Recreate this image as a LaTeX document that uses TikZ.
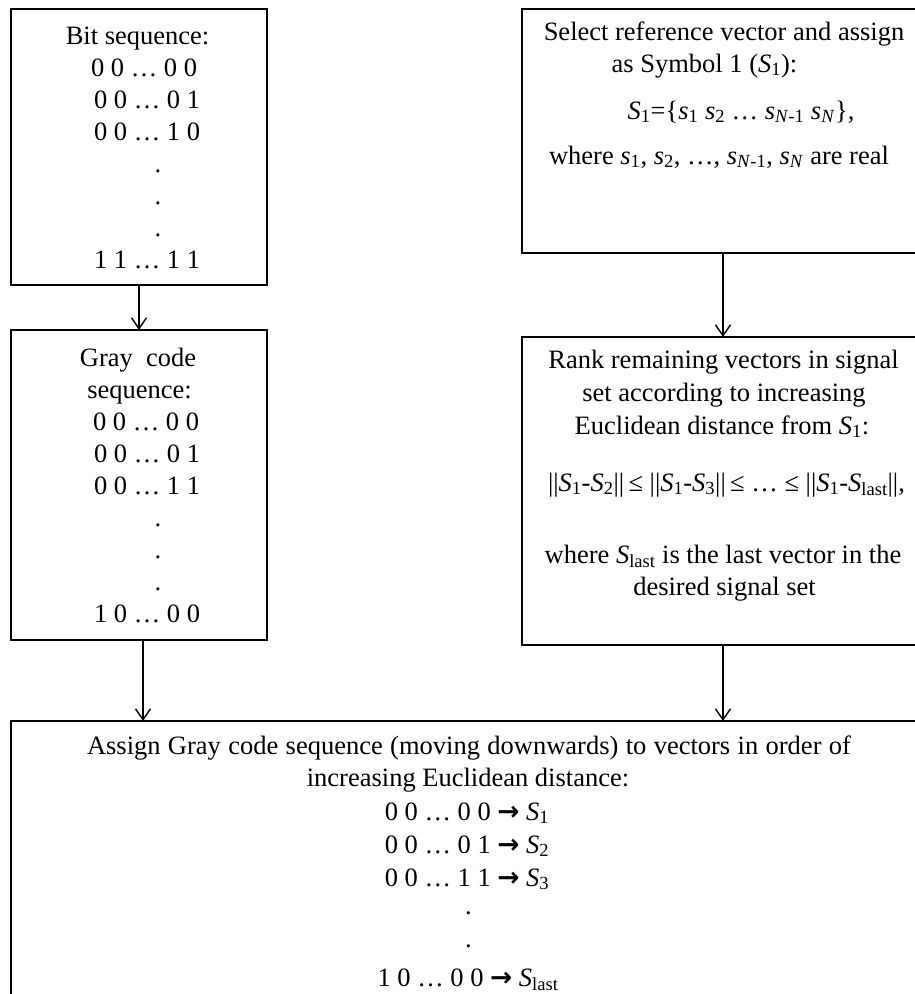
\documentclass[tikz,border=0pt]{standalone}
\usepackage{fontspec}
\setmainfont{Liberation Serif}
\newfontfamily\dejavu{DejaVu Sans}
\usetikzlibrary{arrows.meta}
\newcommand\Sv[1]{\textit{S}\textsubscript{#1}}
\newcommand\sv[1]{\textit{s}\textsubscript{#1}}
\newcommand\rarrow{{\dejavu\bfseries →}}
\begin{document}
\begin{tikzpicture}[x=1pt,y=-1pt,
  box/.style={draw, line width=1.8pt, inner sep=0pt, outer sep=0pt},
  txt/.style={anchor=base, inner sep=0pt, font=\fontsize{26.5}{32}\selectfont},
  arr/.style={line width=1.4pt, -{Straight Barb[length=11pt,width=15pt,line width=1.4pt]}}]
\useasboundingbox (0,0) rectangle (915,994);
\fill[white] (0,0) rectangle (915,994);
% boxes
\node[box, minimum width=256pt, minimum height=276pt] (b1) at (139,147) {};
\node[box, minimum width=394pt, minimum height=244pt] (b2) at (719,131) {};
\node[box, minimum width=256pt, minimum height=310pt] (b3) at (139,485) {};
\node[box, minimum width=394pt, minimum height=308pt] (b4) at (719,491) {};
\node[box, minimum width=905pt, minimum height=289pt] (b5) at (463.5,865.5) {};
% box 1
\node[txt] (t11) at (137.5,44) {Bit sequence:};
\node[txt] (t12) at (144,76) {0 0 … 0 0};
\node[txt] (t13) at (147,108) {0 0 … 0 1};
\node[txt] (t14) at (147,140) {0 0 … 1 0};
\node[txt] (t15) at (158,172) {.};
\node[txt] (t16) at (158,204) {.};
\node[txt] (t17) at (158,236) {.};
\node[txt] (t18) at (147,268) {1 1 … 1 1};
% box 3
\node[txt] (t31) at (138,366) {Gray\ \ code};
\node[txt] (t32) at (139.5,398) {sequence:};
\node[txt] (t33) at (146,430) {0 0 … 0 0};
\node[txt] (t34) at (147,462) {0 0 … 0 1};
\node[txt] (t35) at (147,494) {0 0 … 1 1};
\node[txt] (t36) at (158,526) {.};
\node[txt] (t37) at (158,558) {.};
\node[txt] (t38) at (158,590) {.};
\node[txt] (t39) at (147,622) {1 0 … 0 0};
% box 2
\node[txt] (t21) at (724,40) {Select reference vector and assign};
\node[txt] (t22) at (704.5,72) {as Symbol 1 (\Sv{1}):};
\node[txt] (t23) at (741,119) {\Sv{1}=\{\sv{1} \sv{2} … \sv{\textit{N}-1} \sv{\textit{N}}\},};
\node[txt] (t24) at (719,164) {where \sv{1}, \sv{2}, …, \sv{\textit{N}-1}, \sv{\textit{N}} are real};
% box 4
\node[txt] (t41) at (723.5,368) {Rank remaining vectors in signal};
\node[txt] (t42) at (724,401) {set according to increasing};
\node[txt] (t43) at (722,434) {Euclidean distance from \Sv{1}:};
\node[txt] (t44) at (726.5,491) {||\Sv{1}-\Sv{2}||\,≤ ||\Sv{1}-\Sv{3}||\,≤ … ≤ ||\Sv{1}-\Sv{last}||,};
\node[txt] (t45) at (723,563) {where \Sv{last} is the last vector in the};
\node[txt] (t46) at (724.5,595) {desired signal set};
% box 5
\node[txt] (t51) at (469,754) {\makebox[764pt][s]{Assign Gray code sequence (moving downwards) to vectors in order of}};
\node[txt] (t52) at (468,786) {increasing Euclidean distance:};
\node[txt] (t53) at (467,820) {0 0 … 0 0 \rarrow\ \Sv{1}};
\node[txt] (t54) at (467,853) {0 0 … 0 1 \rarrow\ \Sv{2}};
\node[txt] (t55) at (467,886) {0 0 … 1 1 \rarrow\ \Sv{3}};
\node[txt] (t56) at (468.5,914) {.};
\node[txt] (t57) at (468.5,947) {.};
\node[txt] (t58) at (468,986) {1 0 … 0 0 \rarrow\ \Sv{last}};
% connectors
\coordinate (xl) at (143,0);
\coordinate (xr) at (723,0);
\draw[arr] (b1.south) -- (b3.north);
\draw[arr] (b2.south -| xr) -- (b4.north -| xr);
\draw[arr] (b3.south -| xl) -- (b5.north -| xl);
\draw[arr] (b4.south -| xr) -- (b5.north -| xr);
\end{tikzpicture}
\end{document}
